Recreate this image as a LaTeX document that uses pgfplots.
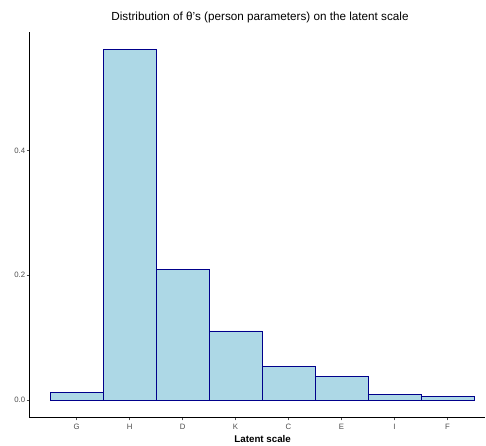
\documentclass[border=0pt]{standalone}
\usepackage{fontspec}
\setmainfont{Liberation Sans}
\usepackage{pgfplots}
\pgfplotsset{compat=1.18}
\definecolor{barfill}{RGB}{173,216,230}
\definecolor{baredge}{RGB}{0,0,139}
\definecolor{ticklab}{RGB}{77,77,77}
\begin{document}
\begin{tikzpicture}[x=1bp,y=1bp]
\useasboundingbox (0,0) rectangle (486,446);
\begin{axis}[
  at={(29.5bp,28.3bp)}, anchor=south west,
  scale only axis, width=455.5bp, height=386bp,
  xmin=-0.891, xmax=7.71, ymin=-0.028, ymax=0.590,
  axis x line*=bottom, axis y line*=left,
  axis line style={-, line width=0.6bp, black},
  xtick={0,...,7}, xticklabels={G,H,D,K,C,E,I,F},
  ytick={0,0.2,0.4},
  yticklabel style={xshift=2bp, /pgf/number format/.cd, fixed, fixed zerofill, precision=1},
  tick align=outside, major tick length=2.8bp,
  tick style={ticklab, line width=0.5bp},
  ticklabel style={font=\fontsize{7.8}{9}\selectfont, text=ticklab},
  /pgf/number format/assume math mode=true,
  every axis title/.style={at={(0.5,1)}, anchor=center, yshift=14.7bp, xshift=2.75bp, font=\fontsize{11.75}{13}\selectfont},
  title={Distribution of θ's (person parameters) on the latent scale},
  xlabel={Latent scale},
  every axis x label/.style={at={(0.5,0)}, anchor=center, yshift=-21.3bp, xshift=5.4bp, font=\bfseries\fontsize{9.8}{11}\selectfont},
  ybar, bar width=1,
]
\addplot[fill=barfill, draw=baredge, line width=0.7bp] coordinates {
  (0,0.012) (1,0.561) (2,0.209) (3,0.111) (4,0.054) (5,0.038) (6,0.009) (7,0.006)
};
\end{axis}
\end{tikzpicture}
\end{document}
